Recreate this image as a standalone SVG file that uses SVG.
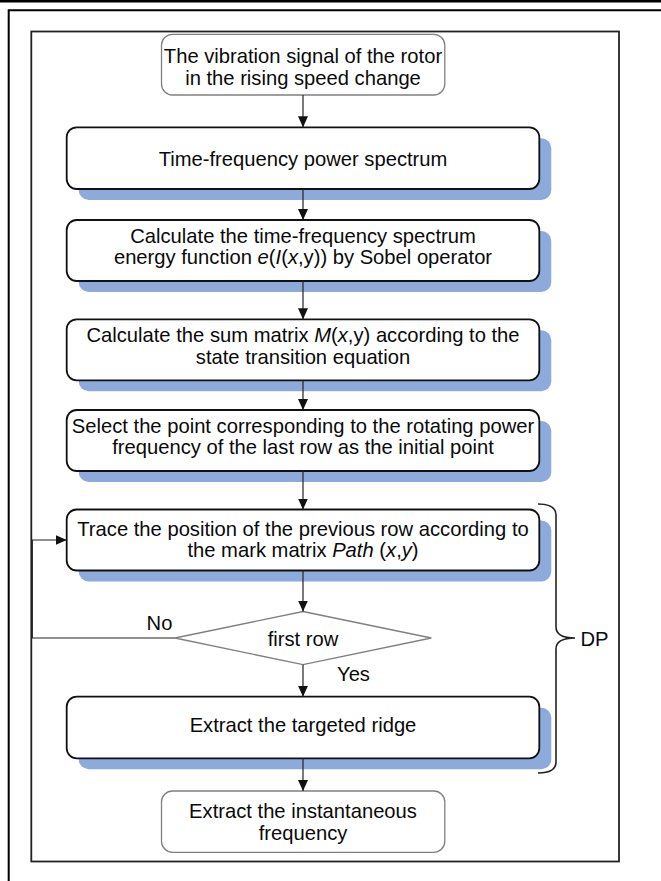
<svg xmlns="http://www.w3.org/2000/svg" width="661" height="881" viewBox="0 0 661 881">
  <style>
    text { font-family: "Liberation Sans", Arial, sans-serif; font-size: 20.2px; fill: #0a0a0a; text-anchor: middle; }
    .it { font-style: italic; }
    .step { fill: #fff; stroke: #111; stroke-width: 1.8; }
    .term { fill: #fff; stroke: #808080; stroke-width: 1.3; }
    .shadow { fill: #8eaadb; stroke: none; }
    .line { fill: none; stroke: #222; stroke-width: 1.2; }
    .brace { fill: none; stroke: #222; stroke-width: 1.6; }
  </style>
  <defs>
    <marker id="arrow" viewBox="0 0 11 10" refX="11" refY="5" markerWidth="11" markerHeight="10" markerUnits="userSpaceOnUse" orient="auto">
      <path d="M0,0 L11,5 L0,10 Z" fill="#111"/>
    </marker>
  </defs>

  <rect x="0" y="0" width="661" height="881" fill="#fff"/>

  <!-- page frame -->
  <g id="frame">
    <line x1="0" y1="1.2" x2="661" y2="1.2" stroke="#000" stroke-width="2.6"/>
    <polyline points="8.7,881 8.7,10.3 661,10.3" fill="none" stroke="#000" stroke-width="2"/>
    <rect x="31.3" y="31.5" width="587.7" height="830" fill="none" stroke="#222" stroke-width="1.8"/>
  </g>

  <!-- start -->
  <g id="n-signal">
    <rect class="term" x="161.5" y="34.3" width="283.3" height="60.7" rx="11"/>
    <text x="303" y="63.3">The vibration signal of the rotor</text>
    <text x="303" y="84.8">in the rising speed change</text>
  </g>

  <g id="n-spectrum">
    <rect class="shadow" x="78.7" y="138.3" width="472.6" height="61.7" rx="10"/>
    <rect class="step" x="66.7" y="127.3" width="472.6" height="61.7" rx="10"/>
    <text x="303" y="165.5">Time-frequency power spectrum</text>
  </g>

  <g id="n-energy">
    <rect class="shadow" x="78.7" y="231" width="472.6" height="61" rx="10"/>
    <rect class="step" x="66.7" y="220" width="472.6" height="61" rx="10"/>
    <text x="303" y="242.7">Calculate the time-frequency spectrum</text>
    <text x="303" y="264.3">energy function <tspan class="it">e</tspan>(<tspan class="it">I</tspan>(<tspan class="it">x</tspan>,y)) by Sobel operator</text>
  </g>

  <g id="n-sum">
    <rect class="shadow" x="78.7" y="330.3" width="472.6" height="61" rx="10"/>
    <rect class="step" x="66.7" y="319.3" width="472.6" height="61" rx="10"/>
    <text x="303" y="342">Calculate the sum matrix <tspan class="it">M</tspan>(<tspan class="it">x</tspan>,y) according to the</text>
    <text x="303" y="363.6">state transition equation</text>
  </g>

  <g id="n-select">
    <rect class="shadow" x="78.7" y="421" width="472.6" height="61" rx="10"/>
    <rect class="step" x="66.7" y="410" width="472.6" height="61" rx="10"/>
    <text x="303" y="432.7">Select the point corresponding to the rotating power</text>
    <text x="303" y="454.3">frequency of the last row as the initial point</text>
  </g>

  <g id="n-trace">
    <rect class="shadow" x="78.7" y="520.5" width="472.6" height="61" rx="10"/>
    <rect class="step" x="66.7" y="509.5" width="472.6" height="61" rx="10"/>
    <text x="303" y="535.5">Trace the position of the previous row according to</text>
    <text x="303" y="557.3">the mark matrix <tspan class="it">Path</tspan> (<tspan class="it">x</tspan>,<tspan class="it">y</tspan>)</text>
  </g>

  <g id="n-first-row">
    <polygon class="term" points="303,611.5 431.3,638 303,664.7 175,638"/>
    <text x="303" y="646">first row</text>
  </g>

  <g id="n-ridge">
    <rect class="shadow" x="78.7" y="707.7" width="472.6" height="61.6" rx="10"/>
    <rect class="step" x="66.7" y="696.7" width="472.6" height="61.6" rx="10"/>
    <text x="303" y="732">Extract the targeted ridge</text>
  </g>

  <!-- end -->
  <g id="n-frequency">
    <rect class="term" x="161.5" y="791" width="283.3" height="61.3" rx="11"/>
    <text x="303" y="818.3">Extract the instantaneous</text>
    <text x="303" y="840">frequency</text>
  </g>

  <!-- DP brace -->
  <g id="n-dp">
    <path class="brace" d="M538,504 Q556,504 556,515 L556,627 Q556,638 575,638 Q556,638 556,649 L556,762 Q556,773 538,773"/>
    <text x="594.5" y="645.7">DP</text>
  </g>

  <g id="connectors">
    <line class="line" x1="303" y1="95" x2="303" y2="127.3" marker-end="url(#arrow)"/>
    <line class="line" x1="303" y1="189" x2="303" y2="220" marker-end="url(#arrow)"/>
    <line class="line" x1="303" y1="281" x2="303" y2="319.3" marker-end="url(#arrow)"/>
    <line class="line" x1="303" y1="380.3" x2="303" y2="410" marker-end="url(#arrow)"/>
    <line class="line" x1="303" y1="471" x2="303" y2="509.5" marker-end="url(#arrow)"/>
    <line class="line" x1="303" y1="570.5" x2="303" y2="611.5" marker-end="url(#arrow)"/>
    <line class="line" x1="303" y1="664.7" x2="303" y2="696.7" marker-end="url(#arrow)"/>
    <line class="line" x1="303" y1="758.3" x2="303" y2="791" marker-end="url(#arrow)"/>
    <polyline class="line" points="175,638 32.3,638 32.3,540 66.7,540" marker-end="url(#arrow)"/>
    <text x="159.5" y="630">No</text>
    <text x="353.5" y="681">Yes</text>
  </g>
</svg>
